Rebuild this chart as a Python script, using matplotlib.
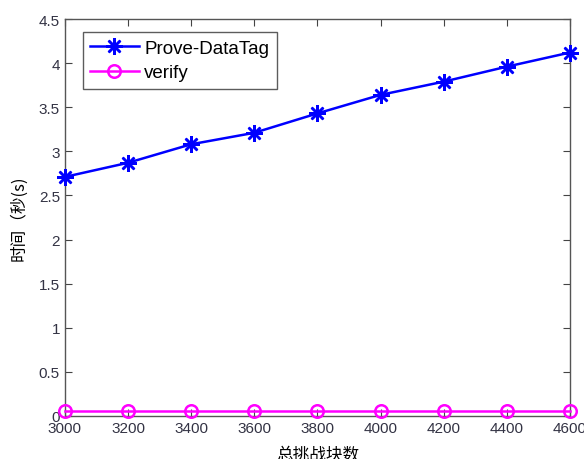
import matplotlib
matplotlib.use("Agg")
import matplotlib.pyplot as plt

plt.rcParams['font.family'] = ['Liberation Sans', 'Noto Sans CJK SC', 'DejaVu Sans']

blocks = [3000, 3200, 3400, 3600, 3800, 4000, 4200, 4400, 4600]
prove_datatag = [2.71, 2.87, 3.08, 3.21, 3.43, 3.64, 3.79, 3.96, 4.12]
verify = [0.06, 0.06, 0.06, 0.06, 0.06, 0.06, 0.06, 0.06, 0.06]
yticks = [0, 0.5, 1, 1.5, 2, 2.5, 3, 3.5, 4, 4.5]
ytick_labels = ['0', '0.5', '1', '1.5', '2', '2.5', '3', '3.5', '4', '4.5']

fig = plt.figure(figsize=(5.84, 4.6), dpi=100)
ax = fig.add_axes([0.111, 0.0935, 0.865, 0.863])

ax.plot(blocks, prove_datatag, color='#0000ff', marker=(8, 2, 0), markersize=12,
        linewidth=1.8, markeredgewidth=1.8, label='Prove-DataTag',
        clip_on=False, zorder=5)
ax.plot(blocks, verify, color='#ff00ff', marker='o', markersize=9,
        markerfacecolor='none', markeredgewidth=1.8, linewidth=1.8, label='verify',
        clip_on=False, zorder=5)

ax.set_xlim(3000, 4600)
ax.set_ylim(0, 4.5)
ax.set_xticks(blocks)
ax.set_xticklabels([str(b) for b in blocks])
ax.set_yticks(yticks)
ax.set_yticklabels(ytick_labels)
ax.tick_params(direction='in', top=True, right=True, labelsize=11,
               labelcolor='#333344', length=5, width=0.8, color='#444444')
for s in ax.spines.values():
    s.set_color('#555555')
    s.set_linewidth(1.0)

ax.set_xlabel('总挑战块数', fontsize=12, family=['Noto Sans CJK SC'], labelpad=8)
ax.set_ylabel('时间（秒(s)', fontsize=12, family=['Noto Sans CJK SC', 'DejaVu Sans'], labelpad=8)

leg = ax.legend(loc='upper left', bbox_to_anchor=(0.035, 0.967), fontsize=13.5,
                frameon=True, fancybox=False, edgecolor='#333333',
                handlelength=2.6, borderpad=0.4, labelspacing=0.4,
                handletextpad=0.3, borderaxespad=0)
leg.get_frame().set_linewidth(1.0)

fig.savefig('out.png', dpi=100)
